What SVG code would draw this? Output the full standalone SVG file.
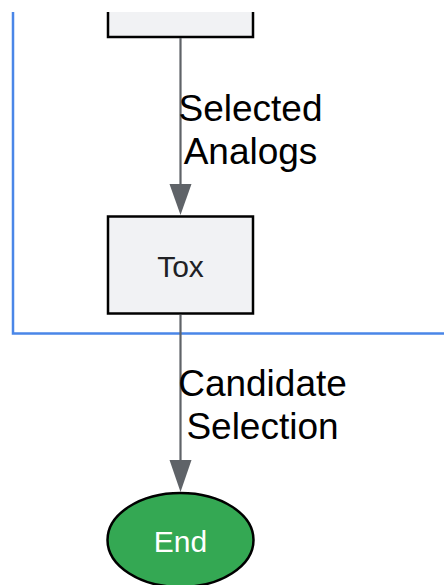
<svg xmlns="http://www.w3.org/2000/svg" width="444" height="585" viewBox="0 0 444 585">
<style>
.box{fill:#f1f2f4;stroke:#000;stroke-width:2.5}
.edge{stroke:#5f6368;stroke-width:2.2;fill:none}
.lbl{font-family:"Liberation Sans",Arial,sans-serif;font-size:37px;fill:#000;text-anchor:middle}
.ntxt{font-family:"Liberation Sans",Arial,sans-serif;font-size:30px;fill:#202124;text-anchor:middle}
</style>
<defs>
<clipPath id="vis"><rect x="0" y="12" width="444" height="573"/></clipPath>
</defs>
<rect width="444" height="585" fill="#fff"/>
<g clip-path="url(#vis)">
<g id="cluster">
<path d="M13,0 V333.5 H446" fill="none" stroke="#4a86e8" stroke-width="2.5"/>
</g>
<g id="node-prev">
<rect class="box" x="108" y="-40" width="145" height="77"/>
</g>
<g id="connectors">
<path class="edge" d="M180.5,38 V186"/>
<path d="M169.5,184 L191.5,184 L180.5,215 Z" fill="#5f6368"/>
<path class="edge" d="M180.5,315 V462"/>
<path d="M169.5,460 L191.5,460 L180.5,492 Z" fill="#5f6368"/>
<text class="lbl" x="250.5" y="121">Selected</text>
<text class="lbl" x="250.5" y="164">Analogs</text>
<text class="lbl" x="262.5" y="396">Candidate</text>
<text class="lbl" x="262.5" y="439">Selection</text>
</g>
<g id="node-tox">
<rect class="box" x="108" y="216.5" width="145" height="97"/>
<text class="ntxt" x="180.5" y="277">Tox</text>
</g>
<g id="node-end">
<ellipse cx="180.5" cy="540" rx="73" ry="47" fill="#34a853" stroke="#000" stroke-width="2.5"/>
<text class="ntxt" x="180.5" y="552" style="fill:#fff">End</text>
</g>
</g>
</svg>
